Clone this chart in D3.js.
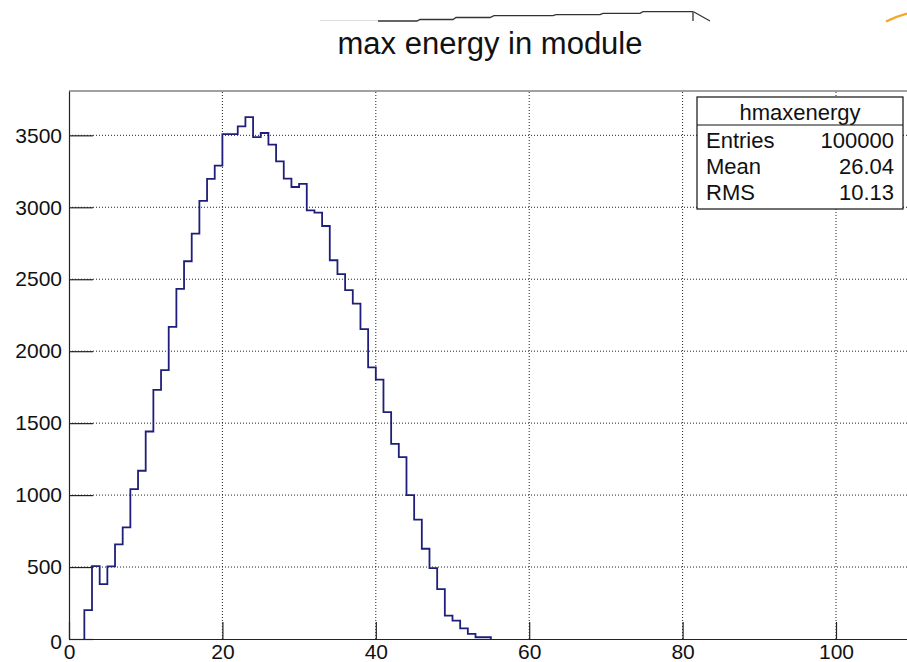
<!DOCTYPE html>
<html>
<head>
<meta charset="utf-8">
<script src="https://cdn.jsdelivr.net/npm/d3@7"></script>
<style>
  body { margin: 0; background: #fff; }
  svg text { font-family: "Liberation Sans", Arial, Helvetica, sans-serif; fill: #111; }
</style>
</head>
<body>
<div id="chart"></div>
<script>
// histogram contents, bin width 1, first filled bin starts at x = 2
var firstBin = 2;
var binWidth = 1;
var counts = [200, 507, 382, 505, 657, 775, 1041, 1169, 1442, 1731, 1868,
    2169, 2433, 2625, 2817, 3044, 3197, 3289, 3509, 3509, 3562, 3627,
    3488, 3516, 3435, 3319, 3199, 3141, 3162, 2979, 2963, 2870, 2632,
    2535, 2424, 2331, 2153, 1887, 1803, 1576, 1356, 1264, 1000, 829,
    627, 493, 347, 162, 127, 74, 35, 12, 12];

var xTicks = [0, 20, 40, 60, 80, 100];
var yTicks = [0, 500, 1000, 1500, 2000, 2500, 3000, 3500];
var statLabels = ["Entries", "Mean", "RMS"];
var statValues = ["100000", "26.04", "10.13"];
var histName = "hmaxenergy";
var title = "max energy in module";

var svgWidth = 907, svgHeight = 662;
var margin = { top: 91, left: 69, bottom: 23 };
var xMax = 110, yMax = 3808;

var svg = d3.select("#chart").append("svg")
    .attr("width", svgWidth)
    .attr("height", svgHeight);

// scales
var x = d3.scaleLinear().domain([0, xMax]).range([margin.left, margin.left + xMax * 7.67]);
var y = d3.scaleLinear().domain([0, yMax]).range([svgHeight - margin.bottom, margin.top]);

// dotted grid
var grid = svg.append("g");
grid.selectAll(".vg")
    .data(xTicks.filter(d => d > 0))
    .enter().append("line")
    .attr("x1", d => x(d)).attr("x2", d => x(d))
    .attr("y1", y(0)).attr("y2", y(yMax))
    .attr("stroke", "#222").attr("stroke-dasharray", "1,2");
grid.selectAll(".hg")
    .data(yTicks.filter(d => d > 0))
    .enter().append("line")
    .attr("x1", x(0)).attr("x2", x(xMax))
    .attr("y1", d => y(d)).attr("y2", d => y(d))
    .attr("stroke", "#222").attr("stroke-dasharray", "1,2");

// histogram outline
var pts = [[firstBin, 0]];
counts.forEach(function(c, i) {
    var lo = firstBin + i * binWidth;
    pts.push([lo, c]);
    pts.push([lo + binWidth, c]);
});
pts.push([firstBin + counts.length * binWidth, 0]);

svg.append("path")
    .datum(pts)
    .attr("d", d3.line().x(d => x(d[0])).y(d => y(d[1])))
    .attr("fill", "none")
    .attr("stroke", "#1f1f7a")
    .attr("stroke-width", 1.8);

// frame top
svg.append("line")
    .attr("x1", x(0)).attr("x2", x(xMax))
    .attr("y1", y(yMax)).attr("y2", y(yMax))
    .attr("stroke", "#444").attr("stroke-width", 1.2);

// axes (ROOT style, ticks pointing inwards)
var xMinor = d3.range(0, xMax + 1, 5).filter(d => d % 20 !== 0);
var yMinor = d3.range(0, yMax, 100).filter(d => d % 500 !== 0);

var xAxisG = svg.append("g").attr("transform", `translate(0, ${y(0)})`);
xAxisG.call(d3.axisBottom(x).tickValues(xMinor).tickSize(-8).tickSizeOuter(0).tickFormat(""));
xAxisG.call(d3.axisBottom(x).tickValues(xTicks).tickSize(-17).tickSizeOuter(0)
    .tickPadding(5).tickFormat(d3.format("d")));

var yAxisG = svg.append("g").attr("transform", `translate(${x(0)}, 0)`);
yAxisG.call(d3.axisLeft(y).tickValues(yMinor).tickSize(-14).tickSizeOuter(0).tickFormat(""));
yAxisG.call(d3.axisLeft(y).tickValues(yTicks).tickSize(-24).tickSizeOuter(0)
    .tickPadding(7).tickFormat(d3.format("d")));

svg.selectAll(".domain, .tick line").attr("stroke", "#222").attr("stroke-width", 1.2);
svg.selectAll(".tick text").style("font-size", "21px").attr("fill", "#111");
yAxisG.selectAll(".tick text").filter(d => d === 0).attr("dy", "0.45em");

// title
svg.append("text")
    .attr("x", 490).attr("y", 54)
    .attr("text-anchor", "middle")
    .style("font-size", "31px")
    .text(title);

// stats box
var box = svg.append("g");
box.append("rect")
    .attr("x", 697).attr("y", 97).attr("width", 206).attr("height", 112)
    .attr("fill", "#fff").attr("stroke", "#111").attr("stroke-width", 1.2);
box.append("line")
    .attr("x1", 697).attr("x2", 903).attr("y1", 125).attr("y2", 125)
    .attr("stroke", "#111").attr("stroke-width", 1.2);
box.append("text")
    .attr("x", 800).attr("y", 120)
    .attr("text-anchor", "middle").style("font-size", "22px")
    .text(histName);
box.selectAll(".lab")
    .data(statLabels).enter().append("text")
    .attr("x", 706).attr("y", (d, i) => 148 + i * 26)
    .style("font-size", "22px")
    .text(d => d);
box.selectAll(".val")
    .data(statValues).enter().append("text")
    .attr("x", 894).attr("y", (d, i) => 148 + i * 26)
    .attr("text-anchor", "end").style("font-size", "22px")
    .text(d => d);

// screenshot leftovers at the top edge
svg.append("path")
    .attr("d", "M320,20.5 L378,20.5")
    .attr("stroke", "#ddd").attr("fill", "none");
svg.append("path")
    .attr("d", "M378,21 L417,21 L420,19.5 L453,19.5 L456,17.5 L490,17.5 L494,15.7 L553,15.7 L556,14.7 L600,14.7 L603,13.3 L640,13.3 L643,11.7 L693,11.7 L693,21 M694,12 L710,21")
    .attr("stroke", "#333").attr("stroke-width", 1.3).attr("fill", "none");
svg.append("path")
    .attr("d", "M886,21.5 Q897,16 907,13.5")
    .attr("stroke", "#f5a623").attr("stroke-width", 2.2).attr("fill", "none");
</script>
</body>
</html>
